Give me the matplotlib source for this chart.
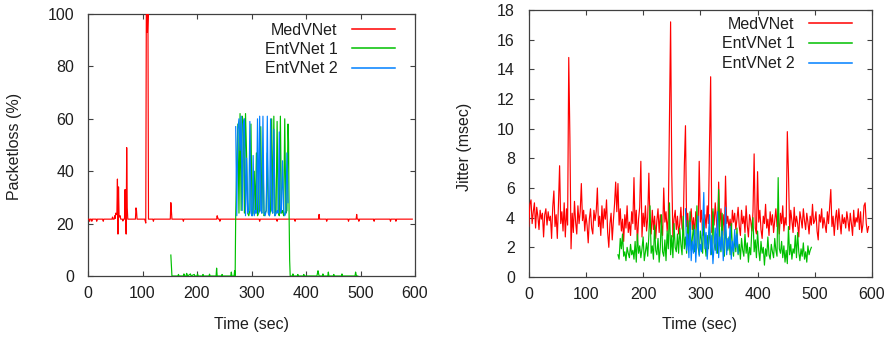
import numpy as np
import matplotlib
matplotlib.use("Agg")
import matplotlib.pyplot as plt

plt.rcParams['font.family'] = ['Liberation Sans', 'DejaVu Sans']

series_names = ["MedVNet", "EntVNet 1", "EntVNet 2"]
colors = ["#ff0000", "#00c000", "#0080ff"]

# ---------------- Packet loss (%) ----------------
pl_med_t = [0, 2, 3, 4, 6, 7, 8, 15, 16, 17, 27, 28, 29, 44, 45, 46, 48, 49, 50, 51, 52, 53, 54, 55, 56,
            57, 58, 59, 60, 63, 64, 65, 67, 68, 69, 70, 71, 72, 73, 87, 88, 89, 90, 104, 105, 106, 107,
            108, 109, 110, 111, 119, 120, 121, 151, 152, 153, 154, 174, 175, 176, 236, 237, 238, 239,
            241, 242, 243, 314, 315, 316, 346, 347, 348, 379, 380, 381, 423, 424, 425, 437, 438, 439,
            477, 478, 479, 492, 493, 494, 496, 497, 498, 524, 525, 526, 554, 555, 556, 564, 565, 566, 595]
pl_med_v = [21.7, 21.7, 20.9, 21.7, 21.7, 20.9, 21.7, 21.7, 20.9, 21.7, 21.7, 20.9, 21.7, 21.7, 22.5,
            21.7, 21.7, 23.0, 22.0, 24.0, 23.5, 24.0, 37.0, 16.0, 34.0, 23.0, 22.5, 23.0, 21.7, 21.7,
            21.0, 21.7, 21.7, 33.0, 22.0, 16.0, 49.0, 26.0, 21.7, 21.7, 26.0, 25.0, 21.7, 21.7, 21.0,
            20.2, 100.0, 100.0, 93.0, 100.0, 21.7, 21.7, 20.9, 21.7, 21.7, 28.0, 25.0, 21.7, 21.7, 20.9,
            21.7, 21.7, 23.0, 22.3, 21.7, 21.7, 20.9, 21.7, 21.7, 20.9, 21.7, 21.7, 20.9, 21.7, 21.7,
            20.9, 21.7, 21.7, 23.5, 21.7, 21.7, 20.9, 21.7, 21.7, 20.9, 21.7, 21.7, 23.5, 21.7, 21.7,
            20.9, 21.7, 21.7, 20.9, 21.7, 21.7, 20.9, 21.7, 21.7, 20.9, 21.7, 21.7]

pl_ent1_pre_t = [152, 153, 154, 165, 166, 167, 175, 176, 177, 180, 181, 182, 183, 188, 189, 195, 196,
                 200, 201, 202, 210, 211, 212, 222, 223, 224, 235, 236, 237, 245, 246, 247, 262, 263,
                 264, 268, 269, 270]
pl_ent1_pre_v = [8.0, 4.0, 0, 0, 0.6, 0, 0, 0.8, 0, 0, 1.0, 0.5, 0, 0.8, 0, 0.6, 0, 0, 0.8, 0, 0, 0.6,
                 0, 0, 0.7, 0, 0, 3.0, 0, 0, 0.6, 0, 0, 1.5, 0, 0, 2.0, 0]
burst_start, burst_step = 271, 2
pl_ent1_burst_v = [23, 45, 58, 24, 62, 25, 61, 59, 24, 62,
                   46, 24, 23, 25, 58, 23, 24, 40, 24, 47,
                   23, 24, 25, 57, 24, 46, 23, 24, 25, 47,
                   24, 23, 25, 60, 24, 61, 23, 24, 59, 24,
                   23, 61, 24, 25, 23, 60, 24, 25, 58]
pl_ent1_post_t = [368, 369, 370, 371, 375, 376, 377, 384, 385, 386, 395, 396, 397, 420, 421, 422, 423,
                  424, 430, 431, 432, 440, 441, 442, 450, 451, 452, 465, 466, 467, 490, 491, 492, 493, 495]
pl_ent1_post_v = [51, 23, 6, 0, 0, 0.8, 0, 0, 0.6, 0, 0, 0.6, 0, 0, 1.0, 2.0, 1.0, 0, 0, 0.8, 0, 0,
                  1.5, 0, 0, 0.6, 0, 0, 0.8, 0, 0, 1.5, 0.5, 0, 0]

pl_ent2_v = [57, 23, 56, 60, 48, 61, 25, 58, 60, 23,
             45, 24, 25, 59, 24, 23, 46, 23, 25, 24,
             60, 24, 61, 25, 24, 61, 24, 23, 25, 61,
             24, 23, 60, 25, 24, 56, 23, 24, 25, 24,
             55, 24, 25, 44, 25, 23, 24, 47, 28]

# ---------------- Jitter (msec) ----------------
jit_med_start, jit_step = 0, 2
jit_med_v = [3.4, 4.9, 5.2, 3.6, 4.4, 5.0, 3.3, 4.7, 4.1, 3.2, 4.5, 3.9, 4.3, 2.7, 4.2, 4.6, 3.5, 4.4, 3.8, 4.1,
             2.6, 4.7, 5.8, 3.4, 4.2, 2.6, 4.9, 7.5, 3.6, 4.4, 3.1, 5.0, 2.7, 4.6, 3.5, 14.8, 9.4, 1.9, 4.3, 3.0,
             5.1, 3.7, 2.9, 4.8, 3.6, 4.4, 6.3, 3.8, 4.5, 3.1, 4.2, 3.5, 2.3, 3.9, 4.6, 3.3, 2.9, 4.5, 3.8, 4.4,
             6.0, 3.4, 4.1, 2.8, 4.8, 3.3, 4.6, 3.9, 5.2, 3.0, 2.0, 3.6, 4.3, 2.5, 3.8, 4.9, 6.4, 4.4, 6.3, 3.5,
             4.6, 3.1, 3.9, 2.4, 4.2, 3.3, 4.8, 3.0, 3.7, 2.8, 4.4, 3.6, 6.7, 3.2, 4.5, 2.3, 3.9, 4.7, 7.8, 2.7,
             4.3, 3.4, 4.8, 3.1, 4.0, 7.0, 3.6, 2.9, 4.5, 3.2, 4.1, 2.6, 3.8, 4.6, 3.0, 4.2, 3.5, 2.8, 6.0, 3.7,
             4.4, 3.1, 4.0, 10.5, 17.2, 7.1, 2.7, 3.9, 4.5, 3.2, 4.1, 2.9, 3.6, 4.7, 3.3, 3.0, 7.5, 10.2, 3.4, 4.3,
             2.6, 3.8, 4.6, 3.2, 4.0, 2.9, 4.4, 3.5, 3.1, 7.8, 3.7, 4.5, 2.8, 3.9, 4.2, 3.3, 4.8, 3.6, 8.9, 13.5,
             3.0, 4.4, 3.5, 5.0, 3.8, 2.7, 6.4, 3.4, 4.6, 3.1, 4.2, 2.8, 6.8, 3.6, 4.1, 3.3, 3.9, 2.9, 4.5, 3.7,
             4.3, 3.2, 3.9, 4.7, 3.4, 2.8, 4.5, 3.6, 4.1, 3.0, 4.8, 3.5, 2.7, 4.2, 3.8, 3.1, 4.4, 8.3, 3.3, 2.9,
             7.1, 3.7, 4.5, 3.2, 2.6, 4.1, 3.6, 4.9, 3.3, 3.9, 2.8, 4.4, 3.5, 4.2, 3.0, 3.8, 4.6, 3.4, 4.0, 2.9,
             4.3, 3.6, 4.8, 3.1, 4.0, 3.5, 9.8, 7.0, 3.2, 4.5, 3.8, 3.0, 4.7, 3.4, 4.1, 3.6, 2.7, 4.4, 3.9, 3.3,
             4.6, 3.8, 3.2, 4.3, 3.7, 2.9, 4.1, 3.5, 4.9, 3.6, 3.8, 4.4, 3.1, 2.5, 4.2, 3.7, 4.6, 3.3, 4.0, 3.5,
             3.0, 4.4, 3.6, 4.8, 5.9, 3.4, 4.1, 2.8, 3.9, 4.5, 3.2, 4.6, 3.7, 2.9, 4.2, 3.6, 4.0, 3.3, 4.4, 3.8,
             3.1, 4.3, 3.6, 2.8, 4.5, 3.4, 4.0, 3.7, 4.6, 3.2, 4.4, 3.0, 3.5, 4.8, 5.0, 3.6, 3.0, 3.4]

jit_ent1_start = 156
jit_ent1_v = [1.5, 1.2, 2.6, 1.9, 2.9, 1.4, 1.7, 1.1, 2.0, 1.6, 1.3, 2.2, 1.5, 1.8, 1.2, 2.4, 1.0, 2.9, 1.6, 2.1,
              1.3, 1.9, 2.7, 1.1, 1.7, 2.3, 1.4, 2.8, 4.8, 1.6, 2.1, 1.2, 3.5, 1.8, 1.5, 2.6, 1.0, 2.0, 4.2, 1.7,
              1.4, 2.5, 1.1, 3.1, 1.9, 5.0, 1.5, 2.8, 1.3, 3.6, 2.0, 1.7, 2.9, 1.6, 3.3, 2.2, 1.5, 4.1, 1.9, 2.7,
              1.6, 3.8, 2.1, 4.4, 1.8, 2.6, 3.5, 1.7, 2.3, 4.8, 2.0, 1.5, 3.1, 2.5, 1.6, 3.9, 2.2, 1.4, 2.8, 1.9,
              3.4, 2.1, 1.5, 4.6, 2.3, 1.8, 2.9, 1.6, 5.9, 2.4, 1.7, 4.3, 2.0, 1.4, 3.2, 2.5, 1.8, 2.7, 1.5, 3.6,
              2.1, 1.4, 2.8, 1.7, 3.3, 1.5, 2.2, 1.2, 2.6, 1.8, 1.4, 2.9, 1.6, 2.3, 1.0, 2.0, 1.5, 3.2, 4.0, 1.7,
              2.5, 1.3, 3.1, 1.8, 1.1, 2.4, 1.6, 2.0, 0.8, 1.9, 1.4, 2.7, 1.5, 1.2, 2.2, 1.7, 1.3, 2.6, 1.8, 1.4,
              6.7, 1.9, 1.6, 2.4, 1.3, 2.1, 1.0, 1.8, 0.9, 3.4, 1.5, 2.2, 1.2, 1.9, 1.6, 2.8, 1.3, 3.0, 1.7, 1.1,
              1.9, 1.4, 2.3, 1.2, 1.7, 1.0, 2.1, 1.5, 1.8, 2.0]

jit_ent2_start = 274
jit_ent2_v = [4.6, 1.8, 2.9, 1.3, 3.7, 1.1, 2.4, 1.6, 3.2, 1.0, 2.6, 4.1, 1.4, 2.2, 1.7, 3.5, 5.7, 1.9, 3.0, 1.2,
              2.5, 4.2, 1.5, 2.8, 0.9, 2.1, 3.3, 1.6, 4.4, 1.3, 2.7, 1.8, 3.1, 1.1, 2.3, 4.7, 1.5, 2.6, 1.9, 3.4,
              1.2, 2.4, 1.7, 3.2, 2.0, 2.9, 1.6]

x_ticks = [0, 100, 200, 300, 400, 500, 600]
pl_ticks = [0, 20, 40, 60, 80, 100]
jit_ticks = [0, 2, 4, 6, 8, 10, 12, 14, 16, 18]

# ---------------- build series ----------------
pl_ent1_t = (pl_ent1_pre_t
             + list(burst_start + burst_step * np.arange(len(pl_ent1_burst_v)))
             + pl_ent1_post_t)
pl_ent1_vals = pl_ent1_pre_v + pl_ent1_burst_v + pl_ent1_post_v
pl_ent2_t = burst_start + burst_step * np.arange(len(pl_ent2_v))

jit_med_t = jit_med_start + jit_step * np.arange(len(jit_med_v))
jit_ent1_t = jit_ent1_start + jit_step * np.arange(len(jit_ent1_v))
jit_ent2_t = jit_ent2_start + jit_step * np.arange(len(jit_ent2_v))

TXT = "#1e1e1e"
FS = 11.5
LW = 0.85

fig = plt.figure(figsize=(8.92, 3.39), dpi=100)
ax1 = fig.add_axes([88 / 892, 1 - 276 / 339, 327 / 892, 262 / 339])
ax2 = fig.add_axes([528.7 / 892, 1 - 277 / 339, 343.3 / 892, 267 / 339])

ax1.plot(pl_med_t, pl_med_v, color=colors[0], lw=LW, label=series_names[0], zorder=3)
ax1.plot(pl_ent1_t, pl_ent1_vals, color=colors[1], lw=LW, label=series_names[1], zorder=4)
ax1.plot(pl_ent2_t, pl_ent2_v, color=colors[2], lw=LW, label=series_names[2], zorder=5)

ax2.plot(jit_med_t, jit_med_v, color=colors[0], lw=LW, label=series_names[0], zorder=3)
ax2.plot(jit_ent1_t, jit_ent1_v, color=colors[1], lw=LW, label=series_names[1], zorder=4)
ax2.plot(jit_ent2_t, jit_ent2_v, color=colors[2], lw=LW, label=series_names[2], zorder=5)

for ax, yt, ylim in [(ax1, pl_ticks, (0, 100)), (ax2, jit_ticks, (0, 18))]:
    ax.set_xlim(0, 600)
    ax.set_ylim(*ylim)
    ax.set_xticks(x_ticks)
    ax.set_yticks(yt)
    ax.tick_params(direction='in', top=True, right=True, length=3.5, width=0.8,
                   color="#404040", labelsize=FS, labelcolor=TXT)
    ax.tick_params(axis='x', pad=7.5)
    ax.tick_params(axis='y', pad=10)
    for s in ax.spines.values():
        s.set_color("#404040")
        s.set_linewidth(0.9)

leg1 = ax1.legend(loc='upper right', bbox_to_anchor=(0.939, 0.966), markerfirst=False, frameon=False,
                  fontsize=FS, handlelength=2.7, handletextpad=0.9, labelspacing=0.26,
                  borderpad=0, borderaxespad=0)
leg2 = ax2.legend(loc='upper right', bbox_to_anchor=(0.9418, 0.975), markerfirst=False, frameon=False,
                  fontsize=FS, handlelength=2.7, handletextpad=0.9, labelspacing=0.3,
                  borderpad=0, borderaxespad=0)
for leg in (leg1, leg2):
    for t in leg.get_texts():
        t.set_color(TXT)
    for l in leg.get_lines():
        l.set_linewidth(1.1)

fig.text(15 / 892, 1 - 146.5 / 339, "Packetloss (%)", rotation=90, ha='center', va='center',
         fontsize=FS, color=TXT)
fig.text(465 / 892, 1 - 147 / 339, "Jitter (msec)", rotation=90, ha='center', va='center',
         fontsize=FS, color=TXT)
fig.text(251.5 / 892, 1 - 325 / 339, "Time (sec)", ha='center', va='center', fontsize=FS, color=TXT)
fig.text(700 / 892, 1 - 325 / 339, "Time (sec)", ha='center', va='center', fontsize=FS, color=TXT)

fig.savefig("out.png", dpi=100)
